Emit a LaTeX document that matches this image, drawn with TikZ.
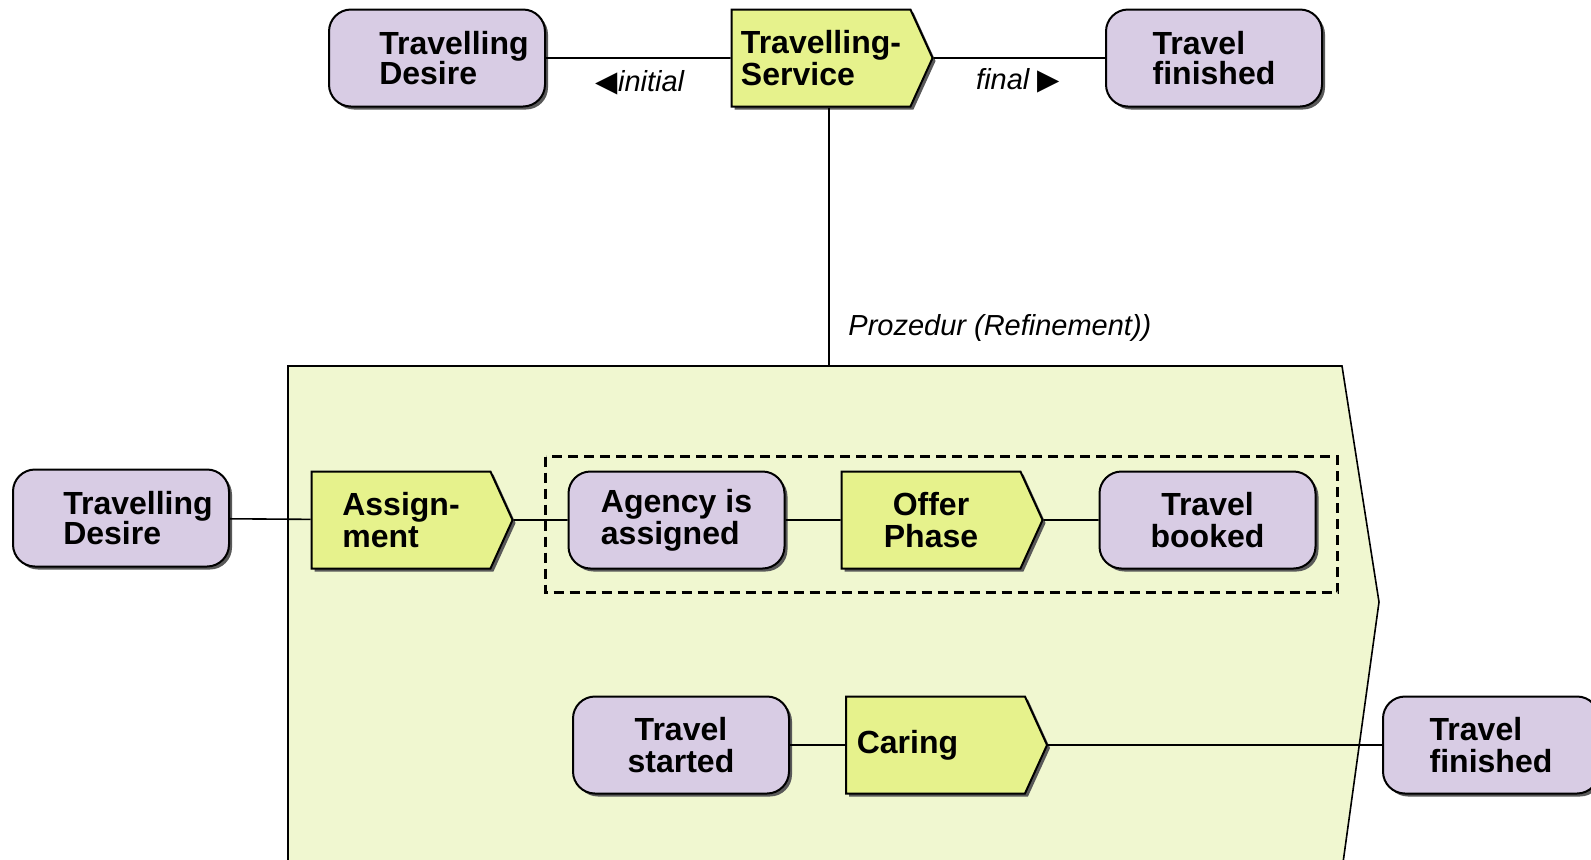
\documentclass[tikz,border=0pt]{standalone}
\usepackage{fontspec}
\setmainfont{Liberation Sans}
\newfontfamily\symfont{DejaVu Sans}
\usetikzlibrary{shapes.symbols, shadows, positioning}

\definecolor{evfill}{RGB}{216,204,228}
\definecolor{fnfill}{RGB}{230,242,140}
\definecolor{procfill}{RGB}{240,247,208}

\begin{document}
\begin{tikzpicture}[x=0.5pt, y=0.5pt]
\tikzstyle{every node}+=[inner sep=2pt]
\tikzstyle{event}=[draw=black, line width=1pt, fill=evfill, rounded corners=11pt, minimum width=108pt, minimum height=48.5pt, font=\bfseries\fontsize{16}{16}\selectfont, drop shadow={shadow xshift=1.5pt, shadow yshift=-1.5pt, fill=black!65, opacity=1}]
\tikzstyle{func}=[draw=black, line width=1pt, fill=fnfill, signal, signal to=east, signal pointer angle=131, minimum width=100.5pt, minimum height=48.5pt, font=\bfseries\fontsize{16}{16}\selectfont, drop shadow={shadow xshift=1.5pt, shadow yshift=-1.5pt, fill=black!65, opacity=1}]
\tikzstyle{link}=[draw=black, line width=0.8pt]
\tikzstyle{note}=[font=\itshape\fontsize{14.5}{16}\selectfont]
\useasboundingbox (0,0) rectangle (1591,-859);
\clip (0,0) rectangle (1591,-859);
\draw [black, line width=0.8pt, fill=procfill] (288,-366) -- (1342,-366) -- (1379,-602) -- (1342,-870) -- (288,-870) -- cycle;
\node [event, align=left, font=\bfseries\fontsize{16}{15.2}\selectfont] (desTop) at (437,-58) {\hspace*{17pt}Travelling\\\hspace*{17pt}Desire};
\node [func, align=left, font=\bfseries\fontsize{16}{13}\selectfont] (svc) at (821,-58) {Travelling-\\Service};
\node [event, align=left, font=\bfseries\fontsize{16}{15}\selectfont] (finTop) at (1214,-58) {Travel\\finished};
\draw [link] (desTop) -- (svc);
\draw [link] (svc) -- (finTop);
\node [note] (ini) at (640,-83) {{\symfont\upshape ◀}initial};
\node [note] (fin) at (1018,-81) {final {\symfont\upshape ▶}};
\draw [link] ([xshift=4pt]svc.south) -- ([xshift=4pt]svc.south |- 0,-366);
\node [note, anchor=west] (procLbl) at (844,-328) {Prozedur (Refinement))};
\node [event, align=left, font=\bfseries\fontsize{16}{15.2}\selectfont] (desLeft) at (121,-518) {\hspace*{17pt}Travelling\\\hspace*{17pt}Desire};
\node [func, align=left] (assign) at (401,-520) {Assign-\\ment};
\node [event, align=left] (agency) at (676.5,-520) {Agency is\\assigned};
\node [func, align=center] (offer) at (931,-520) {Offer\\Phase};
\node [event, align=center] (booked) at (1207.5,-520) {Travel\\booked};
\draw [black, line width=1.3pt, dash pattern=on 5pt off 3pt] ([shift={(-22,14)}]agency.north west) rectangle ([shift={(21,-23)}]booked.south east);
\draw [link] (desLeft) -- (assign);
\draw [link] (assign) -- (agency);
\draw [link] (agency) -- (offer);
\draw [link] (offer) -- (booked);
\node [event, align=center] (started) at (681,-745) {Travel\\started};
\node [func] (caring) at (935.5,-745) {Caring\hspace*{28pt}};
\node [event, align=left] (finLow) at (1491,-745) {Travel\\finished};
\draw [link] (started) -- (caring);
\draw [link] (caring) -- (finLow);
\end{tikzpicture}
\end{document}
